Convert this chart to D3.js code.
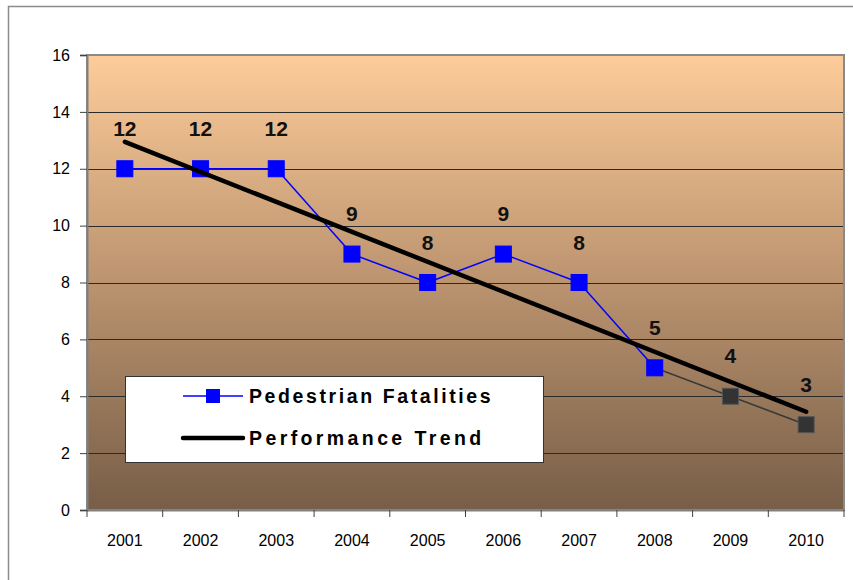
<html>
<head>
<script src="https://d3js.org/d3.v7.min.js"></script>
<style>
  body { margin: 0; background: #fff; }
  text { font-family: "Liberation Sans", Arial, sans-serif; }
</style>
</head>
<body>
<script>

var years = ["2001", "2002", "2003", "2004", "2005", "2006", "2007", "2008", "2009", "2010"];
var fatalities = [12, 12, 12, 9, 8, 9, 8, 5, 4, 3];
var projected = [false, false, false, false, false, false, false, false, true, true];
var yTicks = [0, 2, 4, 6, 8, 10, 12, 14, 16];
var legendLabels = ["Pedestrian Fatalities", "Performance Trend"];

var margin = {top: 55, right: 9, bottom: 70, left: 87},
    width = 853 - margin.left - margin.right,
    height = 580 - margin.top - margin.bottom;

var root = d3.select("body").append("svg")
    .attr("width", 853)
    .attr("height", 580);

// chart border
root.append("rect")
    .attr("x", 8.5).attr("y", 6.5)
    .attr("width", 900).attr("height", 600)
    .attr("fill", "#fff")
    .attr("stroke", "#8c8c8c")
    .attr("stroke-width", 1.5);

var defs = root.append("defs");
var grad = defs.append("linearGradient")
    .attr("id", "bg").attr("x1", 0).attr("y1", 0).attr("x2", 0).attr("y2", 1);
grad.append("stop").attr("offset", "0%").attr("stop-color", "#fdcc99");
grad.append("stop").attr("offset", "50%").attr("stop-color", "#bb936f");
grad.append("stop").attr("offset", "100%").attr("stop-color", "#775e47");

var svg = root.append("g")
    .attr("transform", "translate(" + margin.left + "," + margin.top + ")");

var x = d3.scaleBand().domain(years).range([0, width]);
var y = d3.scaleLinear().domain([0, 16]).range([height, 0]);

svg.append("rect")
    .attr("width", width).attr("height", height)
    .attr("fill", "url(#bg)");

// gridlines
svg.selectAll(".grid")
    .data(yTicks.filter(function(d) { return d > 0 && d < 16; }))
    .enter().append("line")
    .attr("x1", 0).attr("x2", width)
    .attr("y1", function(d) { return Math.round(y(d)) + 0.5; })
    .attr("y2", function(d) { return Math.round(y(d)) + 0.5; })
    .attr("stroke", "#2a2a2a")
    .attr("stroke-width", 1);

svg.append("rect")
    .attr("width", width).attr("height", height)
    .attr("fill", "none")
    .attr("stroke", "#8a8a8a")
    .attr("stroke-width", 2);

// axes
var yAxis = svg.append("g")
    .call(d3.axisLeft(y).tickValues(yTicks).tickSize(7).tickPadding(10));
var xAxis = svg.append("g")
    .attr("transform", "translate(0," + height + ")")
    .call(d3.axisBottom(x).tickSize(0).tickPadding(25));

[yAxis, xAxis].forEach(function(a) {
  a.select(".domain").attr("stroke", "#808080").attr("stroke-width", 2);
  a.selectAll("line").attr("stroke", "#404040");
  a.selectAll("text").attr("font-size", 16).attr("fill", "#000")
    .style("font-family", "'Liberation Sans', Arial, sans-serif");
});

// x tick marks at category boundaries
svg.selectAll(".xtick")
    .data(years.concat(["end"]))
    .enter().append("line")
    .attr("x1", function(d, i) { return i * x.bandwidth(); })
    .attr("x2", function(d, i) { return i * x.bandwidth(); })
    .attr("y1", height).attr("y2", height + 7)
    .attr("stroke", "#404040");

// linear trend
var n = fatalities.length, sx = 0, sy = 0, sxy = 0, sxx = 0;
fatalities.forEach(function(v, i) { sx += i; sy += v; sxy += i * v; sxx += i * i; });
var slope = (n * sxy - sx * sy) / (n * sxx - sx * sx);
var icpt = (sy - slope * sx) / n;

var cx = function(d, i) { return x(years[i]) + x.bandwidth() / 2; };
var line = d3.line().x(function(d) { return d[0]; }).y(function(d) { return d[1]; });

var pts = fatalities.map(function(v, i) { return [cx(v, i), y(v)]; });

// line segments
for (var i = 0; i < n - 1; i++) {
  svg.append("path")
     .attr("d", line([pts[i], pts[i + 1]]))
     .attr("fill", "none")
     .attr("stroke", projected[i + 1] ? "#3a3a3a" : "#0000ff")
     .attr("stroke-width", 1.5);
}

svg.selectAll(".marker")
    .data(fatalities)
    .enter().append("rect")
    .attr("x", function(d, i) { return cx(d, i) - 8; })
    .attr("y", function(d) { return y(d) - 8; })
    .attr("width", 16).attr("height", 16)
    .attr("fill", function(d, i) { return projected[i] ? "#333333" : "#0000ff"; })
    .attr("stroke", function(d, i) { return projected[i] ? "#555" : "#0000ff"; })
    .attr("stroke-width", 1);

svg.append("path")
    .attr("d", line([[cx(0, 0), y(icpt)], [cx(0, n - 1), y(icpt + slope * (n - 1))]]))
    .attr("stroke", "#000")
    .attr("stroke-width", 4.5)
    .attr("stroke-linecap", "round");

svg.selectAll(".lbl")
    .data(fatalities)
    .enter().append("text")
    .attr("x", function(d, i) { return cx(d, i); })
    .attr("y", function(d) { return y(d) - 33; })
    .attr("text-anchor", "middle")
    .attr("font-size", 21)
    .attr("font-weight", "bold")
    .attr("fill", "#111")
    .text(function(d) { return d; });

// legend
var lg = root.append("g").attr("transform", "translate(125,376)");
lg.append("rect")
    .attr("x", 0.5).attr("y", 0.5)
    .attr("width", 418).attr("height", 86)
    .attr("fill", "#fff")
    .attr("stroke", "#333")
    .attr("stroke-width", 1);

lg.append("line")
    .attr("x1", 58).attr("x2", 118).attr("y1", 20).attr("y2", 20)
    .attr("stroke", "#0000ff").attr("stroke-width", 1.5);
lg.append("rect")
    .attr("x", 81).attr("y", 13).attr("width", 14).attr("height", 14)
    .attr("fill", "#0000ff");
lg.append("line")
    .attr("x1", 58).attr("x2", 118).attr("y1", 62).attr("y2", 62)
    .attr("stroke", "#000").attr("stroke-width", 4.5)
    .attr("stroke-linecap", "round");

lg.selectAll(".lt")
    .data(legendLabels)
    .enter().append("text")
    .attr("x", 124)
    .attr("y", function(d, i) { return 27 + i * 42; })
    .attr("font-size", 19.5)
    .attr("font-weight", "bold")
    .attr("letter-spacing", function(d, i) { return i === 0 ? 2.6 : 3.4; })
    .attr("fill", "#000")
    .text(function(d) { return d; });

</script>
</body>
</html>
